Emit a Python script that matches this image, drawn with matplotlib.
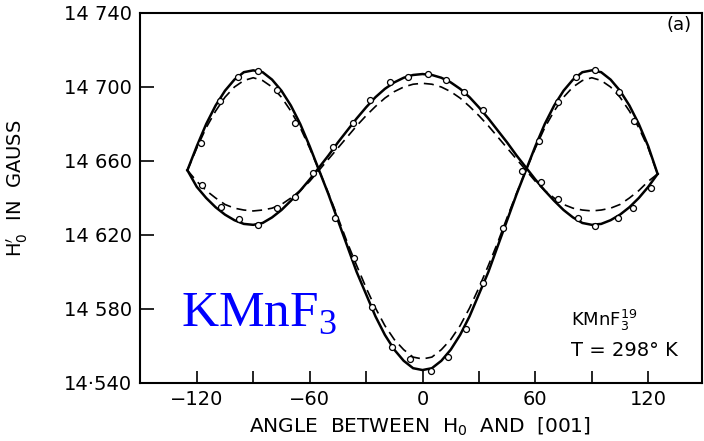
import matplotlib
matplotlib.use("Agg")
import matplotlib.pyplot as plt

# ---------------- data ----------------
angles = list(range(-125, 130, 5))

solid_1 = [14655, 14668, 14680, 14690, 14698, 14704, 14708, 14709, 14708, 14704,
           14698, 14690, 14680, 14668, 14655, 14642, 14628, 14614, 14600, 14588,
           14576, 14566, 14558, 14552, 14548, 14547, 14548, 14552, 14558, 14566,
           14576, 14588, 14600, 14614, 14628, 14642, 14655, 14668, 14680, 14690,
           14698, 14704, 14708, 14709, 14708, 14704, 14698, 14690, 14680, 14668,
           14653]

solid_2 = [14655, 14646, 14640, 14635, 14631, 14628, 14626, 14625.5, 14626.5, 14629.5,
           14633.5, 14638.5, 14644, 14650, 14656.5, 14663, 14670, 14676.5, 14683, 14689,
           14694.5, 14699, 14702.5, 14705, 14706.5, 14707, 14706.5, 14705, 14702.5, 14699,
           14694.5, 14689, 14683, 14676.5, 14670, 14663, 14656.5, 14650, 14644, 14638.5,
           14633.5, 14629.5, 14626.5, 14625.5, 14626, 14628, 14631, 14635, 14640, 14646,
           14653]

dashed_1 = [14655, 14667, 14678, 14687, 14694.5, 14700, 14703.5, 14705, 14703.5, 14700,
            14694.5, 14687, 14678, 14667, 14655, 14642.5, 14629.5, 14616, 14603.5, 14591.5,
            14580.5, 14571, 14563.5, 14558, 14554, 14553, 14554, 14558, 14563.5, 14571,
            14580.5, 14591.5, 14603.5, 14616, 14629.5, 14642.5, 14655, 14667, 14678, 14687,
            14694.5, 14700, 14703.5, 14705, 14703.5, 14700, 14694.5, 14687, 14678, 14667,
            14653]

dashed_2 = [14655, 14649, 14644, 14640, 14636.5, 14634.5, 14633.5, 14633, 14633.5, 14634.5,
            14636.5, 14640, 14644, 14649, 14655, 14661, 14667, 14673, 14679, 14684.5,
            14689.5, 14694, 14697.5, 14700, 14701.5, 14702, 14701.5, 14700, 14697.5, 14694,
            14689.5, 14684.5, 14679, 14673, 14667, 14661, 14655, 14649, 14644, 14640,
            14636.5, 14634.5, 14633.5, 14633, 14633.5, 14634.5, 14636.5, 14640, 14644, 14649,
            14653]

pts1_angle = [-117.7, -107.8, -98.1, -87.7, -77.1, -67.6, -58.2, -46.7, -36.5, -26.7,
              -16.4, -6.4, 4.3, 13.4, 23.2, 32.4, 42.6, 53.1, 62.1, 71.9,
              81.8, 91.9, 104.6, 112.2]
pts1_field = [14670, 14692.4, 14705.6, 14708.6, 14698.2, 14680.4, 14653.3, 14629, 14607.4, 14581.3,
              14559.6, 14553, 14546.7, 14553.9, 14569.2, 14593.9, 14623.6, 14654.6, 14670.8, 14692,
              14705.6, 14709.2, 14697.5, 14681.5]

pts2_angle = [-117.5, -107.4, -97.6, -87.5, -77.1, -67.6, -47.6, -37.0, -28.1, -17.5,
              -7.8, 2.8, 12.6, 22.3, 32.0, 62.8, 72.0, 82.5, 91.9, 104.1,
              111.7, 121.5]
pts2_field = [14647, 14635.3, 14628.6, 14625.4, 14634.4, 14640.4, 14667.7, 14680.4, 14693, 14702.9,
              14705.6, 14706.9, 14703.8, 14697.5, 14687.6, 14648.4, 14639.6, 14629, 14625, 14629,
              14634.4, 14645.2]

xticks_major = [-120, -60, 0, 60, 120]
xtick_labels = ["\u2212120", "\u221260", "0", "60", "120"]
xticks_minor = [-90, -30, 30, 90]
yticks = [14540, 14580, 14620, 14660, 14700, 14740]
ytick_labels = ["14\u00b7540", "14 580", "14 620", "14 660", "14 700", "14 740"]

# ---------------- figure ----------------
plt.rcParams['font.family'] = ['DejaVu Sans']
fig = plt.figure(figsize=(7.04, 4.41), dpi=100)
W, H = 704, 441
ax_l, ax_r, ax_t, ax_b = 140, 702, 13, 383
ax = fig.add_axes([ax_l / W, 1 - ax_b / H, (ax_r - ax_l) / W, (ax_b - ax_t) / H])

ax.plot(angles, dashed_1, color='black', lw=1.2, ls=(0, (6, 3.5)), zorder=2)
ax.plot(angles, dashed_2, color='black', lw=1.2, ls=(0, (6, 3.5)), zorder=2)
ax.plot(angles, solid_1, color='black', lw=1.8, zorder=3, solid_joinstyle='miter')
ax.plot(angles, solid_2, color='black', lw=1.8, zorder=3, solid_joinstyle='miter')
ax.plot(pts1_angle, pts1_field, ls='none', marker='o', ms=4.3, mfc='white',
        mec='black', mew=0.9, zorder=4)
ax.plot(pts2_angle, pts2_field, ls='none', marker='o', ms=4.3, mfc='white',
        mec='black', mew=0.9, zorder=4)

ax.set_xlim(-150.2, 148.6)
ax.set_ylim(14540, 14740)

ax.set_xticks(xticks_major)
ax.set_xticklabels(xtick_labels)
ax.set_xticks(xticks_minor, minor=True)
ax.set_yticks(yticks)
ax.set_yticklabels(ytick_labels)

ax.tick_params(axis='x', which='both', direction='in', length=8.5, width=1.2,
               labelsize=14, pad=5)
ax.tick_params(axis='y', which='both', direction='in', length=10, width=1.2,
               labelsize=14, pad=6)
for s in ax.spines.values():
    s.set_linewidth(1.5)

fig.text(420 / W, 1 - 433 / H, "ANGLE  BETWEEN  H$_\\mathregular{0}$  AND  [001]",
         ha='center', va='baseline', fontsize=14.5)
fig.text(17.5 / W, 1 - 188 / H, "H$_\\mathregular{0}^{\\prime}$  IN  GAUSS",
         rotation=90, ha='center', va='center', fontsize=14)

ax.text(679, 0, "", transform=None)
fig.text(679 / W, 1 - 25 / H, "(a)", ha='center', va='center', fontsize=13)
fig.text(571 / W, 1 - 326 / H, "KMnF$_\\mathregular{3}^\\mathregular{19}$",
         ha='left', va='baseline', fontsize=13)
fig.text(571 / W, 1 - 356 / H, "T = 298\u00b0 K", ha='left', va='baseline', fontsize=14)

fig.text(181 / W, 1 - 326 / H, "KMnF$_\\mathregular{3}$", ha='left', va='baseline',
         fontsize=37, color='#0000ff', family=['Liberation Serif'])

fig.savefig("out.png", dpi=100, facecolor='white')
